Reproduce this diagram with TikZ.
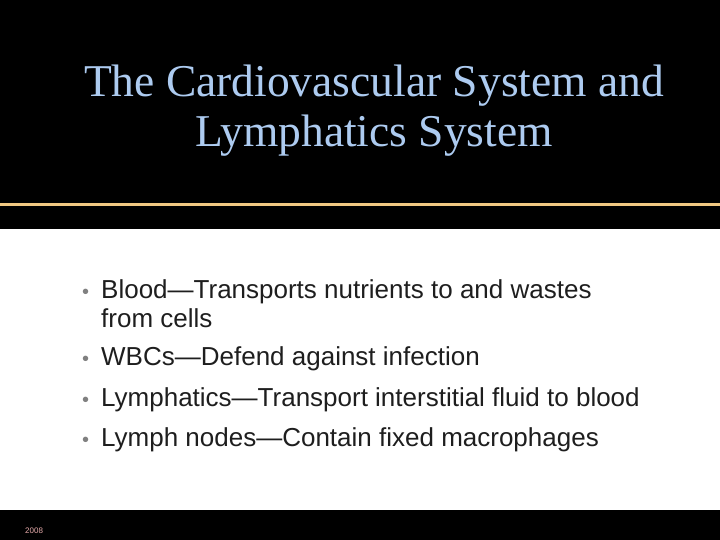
\documentclass[tikz,border=0pt]{standalone}
\usepackage{fontspec}
\setmainfont{Liberation Serif}
\newfontfamily\arial{Liberation Sans}
\definecolor{ttl}{RGB}{173,203,240}
\definecolor{gold}{RGB}{240,200,130}
\definecolor{txt}{RGB}{30,30,30}
\definecolor{yr}{RGB}{230,170,170}
\begin{document}
\begin{tikzpicture}[x=1pt,y=-1pt,
  bul/.style={anchor=base west,font=\arial\fontsize{26}{29}\selectfont,text=txt,inner sep=0pt,align=left},
  dot/.style={anchor=base west,font=\arial\fontsize{20}{24}\selectfont,text=gray,inner sep=0pt}]
\useasboundingbox (0,0) rectangle (720,540);
\fill[black] (0,0) rectangle (720,229);
\fill[gold] (0,203) rectangle (720,206.5);
\fill[black] (0,510) rectangle (720,540);
\node[font=\fontsize{45.5}{50}\selectfont,text=ttl,align=center] (t) at (374,111) {The Cardiovascular System and\\Lymphatics System};
\node[dot] (d1) at (82,298) {•};
\node[bul] (b1) at (101,327) {Blood—Transports nutrients to and wastes\\from cells};
\node[dot] (d2) at (82,365) {•};
\node[bul] (b2) at (101,365) {WBCs—Defend against infection};
\node[dot] (d3) at (82,406) {•};
\node[bul] (b3) at (101,406) {Lymphatics—Transport interstitial fluid to blood};
\node[dot] (d4) at (82,446) {•};
\node[bul] (b4) at (101,446) {Lymph nodes—Contain fixed macrophages};
\node[anchor=base west,font=\arial\fontsize{8}{10}\selectfont,text=yr,inner sep=0pt] (y) at (25,533) {2008};
\end{tikzpicture}
\end{document}
